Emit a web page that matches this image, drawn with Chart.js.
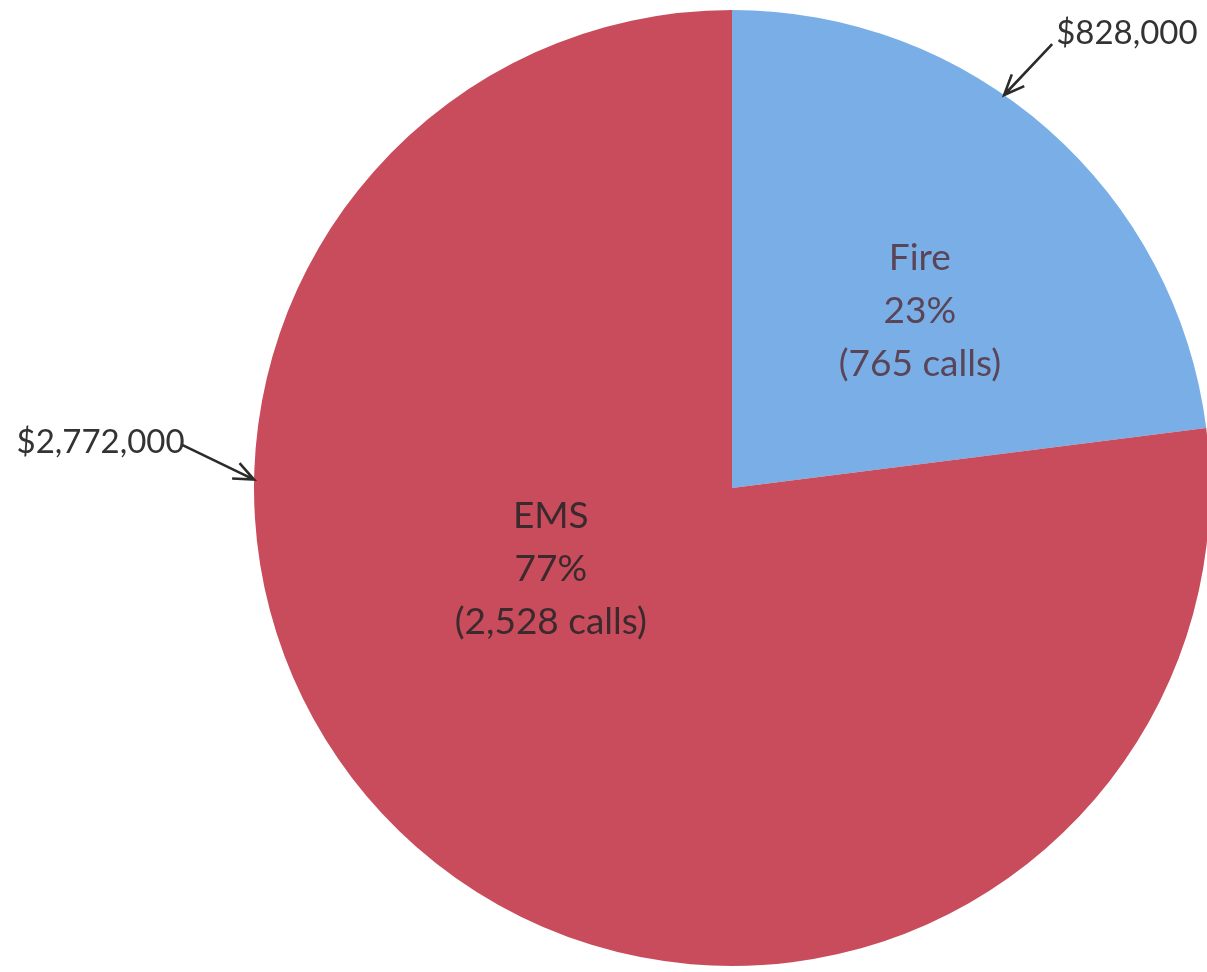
<!DOCTYPE html>
<html>
<head>
<meta charset="utf-8">
<script src="https://cdn.jsdelivr.net/npm/chart.js@4.4.1/dist/chart.umd.min.js"></script>
<style>
  html, body { margin: 0; padding: 0; background: #fff; overflow: hidden; }
  #wrap { width: 1212px; height: 972px; position: relative; }
</style>
</head>
<body>
<div id="wrap"><canvas id="pie"></canvas></div>
<script>
const categories = ['Fire', 'EMS'];
const costs = [828000, 2772000];
const calls = [765, 2528];
const percentLabels = ['23%', '77%'];
const costLabels = ['$828,000', '$2,772,000'];
const sliceColors = ['#79afe6', '#c84c5b'];
const textColors = ['#5a4457', '#3a2a2e'];

// where each inner label sits: angle (deg) and fraction of radius from centre
const innerLabelPos = [{ angle: -43.3, frac: 0.54 }, { angle: 156, frac: 0.415 }];
// arrows: tip angle on the rim, tail angle/fraction outside
const arrowPos = [
    { tip: -55.3, tail: -54.2, tailFrac: 1.145, align: 'left', dx: 4, dy: -11 },
    { tip: 181, tail: 184.5, tailFrac: 1.155, align: 'right', dx: 3, dy: -2 }
];

function fmt(n) { return n.toLocaleString('en-US'); }

const labelPlugin = {
    id: 'labelPlugin',
    afterDatasetsDraw(chart) {
        const ctx = chart.ctx;
        const arcs = chart.getDatasetMeta(0).data;
        arcs.forEach((arc, i) => {
            const { x, y, outerRadius } = arc.getProps(['x', 'y', 'outerRadius'], true);
            const rad = d => d * Math.PI / 180;

            // inner label
            const p = innerLabelPos[i];
            const lx = x + Math.cos(rad(p.angle)) * outerRadius * p.frac;
            const ly = y + Math.sin(rad(p.angle)) * outerRadius * p.frac;
            const lines = [categories[i], percentLabels[i], '(' + fmt(calls[i]) + ' calls)'];
            ctx.save();
            ctx.font = '37px Lato, "Open Sans", sans-serif';
            ctx.fillStyle = textColors[i];
            ctx.textAlign = 'center';
            ctx.textBaseline = 'middle';
            lines.forEach((t, k) => ctx.fillText(t, lx, ly + (k - 1) * 53));
            ctx.restore();

            // arrow with cost
            const a = arrowPos[i];
            const tx = x + Math.cos(rad(a.tip)) * outerRadius;
            const ty = y + Math.sin(rad(a.tip)) * outerRadius;
            const sx = x + Math.cos(rad(a.tail)) * outerRadius * a.tailFrac;
            const sy = y + Math.sin(rad(a.tail)) * outerRadius * a.tailFrac;
            ctx.save();
            ctx.strokeStyle = '#2b2b2b';
            ctx.lineWidth = 2.6;
            ctx.beginPath();
            ctx.moveTo(sx, sy);
            ctx.lineTo(tx, ty);
            const ang = Math.atan2(ty - sy, tx - sx);
            const head = 22;
            ctx.moveTo(tx - head * Math.cos(ang - 0.4), ty - head * Math.sin(ang - 0.4));
            ctx.lineTo(tx, ty);
            ctx.lineTo(tx - head * Math.cos(ang + 0.4), ty - head * Math.sin(ang + 0.4));
            ctx.stroke();
            ctx.font = '33px Lato, "Open Sans", sans-serif';
            ctx.fillStyle = '#333';
            ctx.textAlign = a.align;
            ctx.textBaseline = 'middle';
            ctx.fillText(costLabels[i], sx + a.dx, sy + a.dy);
            ctx.restore();
        });
    }
};

new Chart(document.getElementById('pie'), {
    type: 'pie',
    data: {
        labels: categories,
        datasets: [{
            data: costs,
            backgroundColor: sliceColors,
            borderWidth: 0
        }]
    },
    options: {
        responsive: true,
        maintainAspectRatio: false,
        animation: false,
        layout: { padding: { left: 254, right: 2, top: 10, bottom: 6 } },
        plugins: {
            legend: { display: false },
            tooltip: { enabled: false }
        }
    },
    plugins: [labelPlugin]
});
</script>
</body>
</html>
